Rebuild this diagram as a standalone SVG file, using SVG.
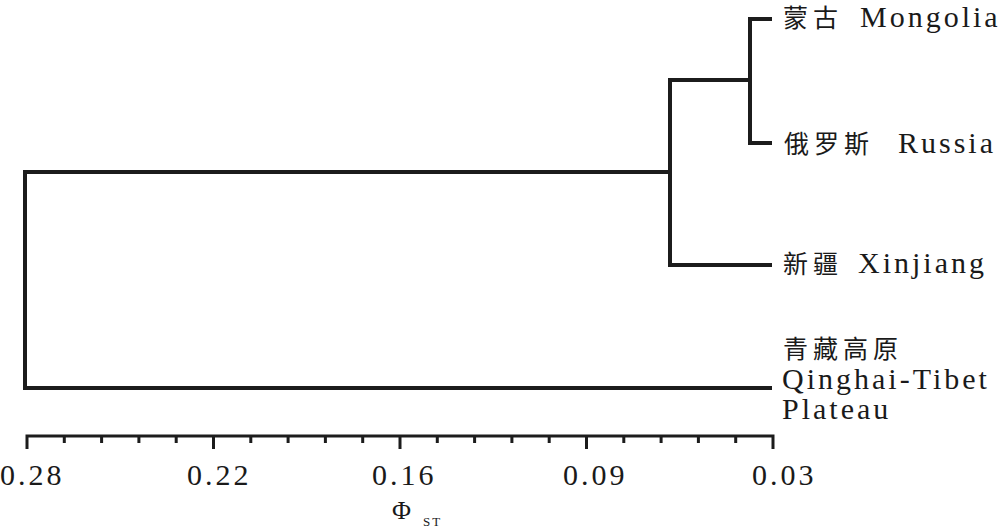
<svg xmlns="http://www.w3.org/2000/svg" width="999" height="528" viewBox="0 0 999 528">
<style>
.br{fill:none;stroke:#1c1c1c;stroke-width:4;stroke-linecap:square;stroke-linejoin:miter}
.ax{fill:none;stroke:#1c1c1c;stroke-width:3}
.tk{stroke:#1c1c1c;stroke-width:3}
.lab{font-family:'Liberation Serif','Times New Roman',Times,'Noto Sans CJK SC',serif;font-size:30px;fill:#1a1a1a;letter-spacing:3px}
.cjk{font-family:'Noto Sans CJK SC',sans-serif;font-size:25px;letter-spacing:5px}
.num{font-family:'Liberation Serif','Times New Roman',Times,serif;font-size:30px;fill:#1a1a1a;letter-spacing:3px}
.phi{font-family:'Liberation Serif','Times New Roman',Times,serif;fill:#1a1a1a}
</style>
<rect width="999" height="528" fill="#fff"/>
<g id="connectors">
<path class="br" d="M770,19 H750 V143 H770"/>
<path class="br" d="M750,80 H670 V265 H770"/>
<path class="br" d="M670,172 H25 V388 H770"/>
</g>
<g id="mongolia"><text class="lab" y="27"><tspan class="cjk" x="783">蒙古</tspan><tspan x="860">Mongolia</tspan></text></g>
<g id="russia"><text class="lab" y="153"><tspan class="cjk" x="784">俄罗斯</tspan><tspan x="898">Russia</tspan></text></g>
<g id="xinjiang"><text class="lab" y="273"><tspan class="cjk" x="783">新疆</tspan><tspan x="858">Xinjiang</tspan></text></g>
<g id="qinghai"><text class="lab"><tspan class="cjk" x="783" y="358">青藏高原</tspan><tspan x="782" y="389">Qinghai-Tibet</tspan><tspan x="782" y="419">Plateau</tspan></text></g>
<g id="axis">
<path class="ax" d="M27,449 V436 H773 V449"/>
<path class="tk" d="M213.5,436V449M400,436V449M586.5,436V449M64.3,436V443M101.6,436V443M138.9,436V443M176.2,436V443M250.8,436V443M288.1,436V443M325.4,436V443M362.7,436V443M437.3,436V443M474.6,436V443M511.9,436V443M549.2,436V443M623.8,436V443M661.1,436V443M698.4,436V443M735.7,436V443"/>
<text class="num" y="485"><tspan x="0">0.28</tspan><tspan x="187">0.22</tspan><tspan x="372">0.16</tspan><tspan x="563">0.09</tspan><tspan x="752">0.03</tspan></text>
<text class="phi" x="392" y="519" font-size="26">Φ</text>
<text class="phi" x="423" y="526" font-size="13" letter-spacing="2">ST</text>
</g>
</svg>
